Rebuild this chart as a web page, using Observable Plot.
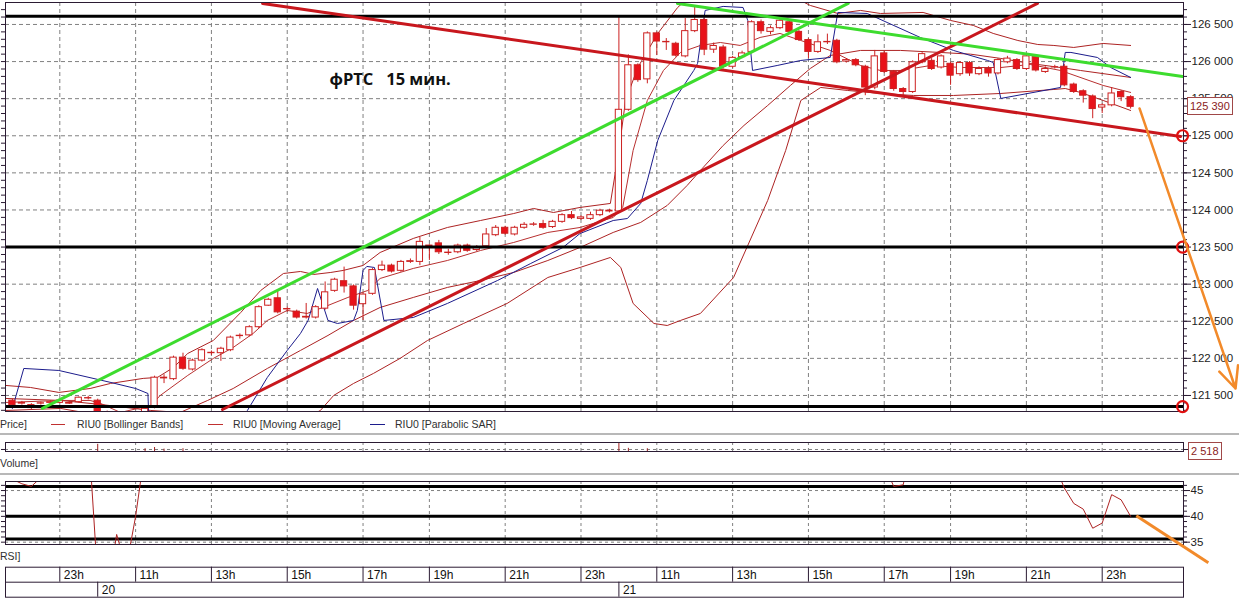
<!DOCTYPE html>
<html><head><meta charset="utf-8">
<script src="https://cdn.jsdelivr.net/npm/d3@7"></script>
<script src="https://cdn.jsdelivr.net/npm/@observablehq/plot@0.6"></script>
<style>
html,body{margin:0;padding:0;background:#fff;}
#wrap{position:relative;width:1239px;height:598px;overflow:hidden;font-family:"Liberation Sans",Arial,sans-serif;background:#fff;}
#wrap svg{position:absolute;left:0;overflow:visible;}
#wrap svg text{white-space:pre;}
.lbl{position:absolute;font-size:10.5px;color:#303030;white-space:pre;line-height:12px;}
.dash{position:absolute;height:1px;}
.sep{position:absolute;left:0;width:1239px;height:2px;background:#b8b8b8;}
.box{position:absolute;border:1px solid #a04848;color:#8a1c1c;font-size:11px;background:#fff;line-height:12px;padding:2px 2px;white-space:pre;}
</style></head><body><div id="wrap"></div><script>
// ---------- DATA ----------
const firstIdx = -5; // candle index of first bar (index 0 = 23:00 on day 19)
// [open, high, low, close] per 15-min candle
const ohlc = [
[121430,121450,121350,121370],[121390,121420,121370,121400],[121370,121390,121310,121330],[121390,121410,121370,121395],
[121400,121430,121380,121410],[121400,121450,121390,121430],[121400,121420,121380,121390],[121410,121480,121400,121470],
[121460,121490,121440,121465],[121430,121450,121200,121270],[121270,121290,121080,121150],[121150,121230,121100,121200],
[121200,121240,121140,121180],[121180,121280,121150,121260],[121250,121340,121230,121320],[121340,121760,121320,121740],
[121730,121780,121660,121740],[121720,122030,121700,122010],[122010,122070,121840,121860],[121850,121990,121830,121970],
[121970,122130,121950,122110],[122070,122100,122040,122075],[122070,122150,121960,122130],[122110,122300,122090,122280],
[122300,122330,122260,122305],[122310,122440,122290,122420],[122420,122710,122400,122690],[122710,122810,122700,122790],
[122810,122920,122600,122620],[122660,122690,122620,122665],[122630,122650,122530,122550],[122550,122740,122530,122560],
[122550,122710,122530,122690],[122670,123030,122650,122890],[122910,123080,122890,123060],[123040,123230,122880,122970],
[122970,122990,122650,122710],[122730,122880,122510,122860],[122870,123210,122850,123190],[123190,123310,123170,123250],
[123250,123270,123150,123170],[123180,123320,123160,123300],[123300,123340,123280,123310],[123300,123630,123250,123570],
[123520,123530,123320,123500],[123550,123590,123400,123430],[123420,123470,123390,123425],[123430,123540,123410,123520],
[123520,123540,123430,123450],[123460,123520,123440,123500],[123510,123750,123490,123670],[123660,123790,123640,123760],
[123760,123780,123660,123680],[123670,123780,123650,123760],[123760,123830,123740,123800],[123800,123830,123780,123805],
[123810,123860,123740,123760],[123770,123860,123750,123840],[123840,123950,123820,123930],[123930,123980,123870,123890],
[123880,123920,123860,123900],[123880,123970,123860,123930],[123930,124010,123910,123990],[123980,124010,123960,123990],
[123980,126600,123960,125350],[125350,126090,125330,125950],[125950,125970,125720,125750],[125760,126400,125700,126380],
[126380,126400,126080,126270],[126260,126310,126150,126265],[126240,126260,126060,126080],[126070,126580,126050,126410],
[126410,126730,126390,126560],[126560,126580,126080,126160],[126160,126250,126110,126210],[126190,126220,125900,125930],
[125930,126070,125910,126050],[126060,126140,126040,126110],[126130,126550,126110,126530],[126530,126560,126370,126410],
[126400,126480,126360,126450],[126450,126580,126430,126550],[126530,126550,126380,126400],[126400,126420,126270,126290],
[126290,126310,126040,126130],[126130,126360,126110,126260],[126260,126370,126230,126265],[126280,126300,125970,125990],
[126000,126040,125980,126020],[126020,126040,125930,125950],[125930,125950,125540,125650],[125650,126150,125620,126070],
[126110,126140,125840,125860],[125860,125880,125600,125630],[125630,125650,125540,125590],[125590,126010,125570,125990],
[125990,126120,125970,126100],[126010,126040,125880,125900],[125920,126090,125900,126070],[125970,125990,125680,125810],
[125830,126000,125800,125980],[125980,126000,125800,125840],[125830,125930,125810,125900],[125900,125930,125790,125840],
[125840,126040,125820,126020],[125990,126070,125970,126040],[126020,126040,125880,125900],[125900,126090,125880,126070],
[126060,126080,125860,125880],[125860,125930,125840,125900],[125920,125950,125900,125925],[125930,125960,125660,125680],
[125690,125710,125570,125590],[125600,125620,125440,125540],[125530,125550,125230,125360],[125380,125430,125300,125410],
[125410,125650,125390,125570],[125590,125610,125460,125520],[125520,125540,125360,125390]
];
// Bollinger upper / middle / lower, moving average, parabolic SAR: [candle index, price]
const bbUpper = [[-5.7,121635],[-3.1,121608],[-0.1,121541],[3.2,121594],[5.35,121662],[8.8,121730],[10.3,121743],[12.0,121877],[13.5,122066],[16.2,122241],[19.1,122619],[21.2,122915],[23.6,123144],[25.4,123171],[26.8,123131],[28.6,123158],[29.9,123185],[32.0,123252],[33.8,123427],[37.3,123616],[40.9,123764],[44.4,123858],[47.9,123952],[50.0,124020],[52.1,123966],[54.9,124034],[58.1,124088],[59.0,124802],[59.7,125476],[61.0,125921],[63.1,126379],[65.2,126729],[66.6,126891],[69.7,127093],[73.9,127025],[77.1,126891],[79.2,126756],[82.1,126648],[84.5,126689],[86.6,126648],[91.1,126662],[94.0,126554],[96.4,126487],[98.5,126379],[101.1,126284],[103.2,126230],[104.9,126217],[107.0,126190],[110.1,126244],[113.0,126217]];
const bbMiddle = [[-5.7,121460],[0.1,121433],[4.3,121379],[9.6,121298],[12.7,121271],[15.6,121433],[18.3,121594],[21.9,121864],[25.4,122107],[28.3,122309],[31.0,122511],[33.8,122686],[37.3,122821],[40.9,122956],[44.4,123050],[47.9,123158],[51.5,123319],[54.9,123495],[58.4,123697],[61.3,123832],[64.1,124061],[66.2,124330],[67.6,124532],[70.0,124869],[72.2,125139],[74.7,125408],[77.1,125678],[79.2,125907],[81.3,126082],[84.5,126150],[88.7,126150],[92.9,126123],[96.1,126100],[99.3,126042],[102.4,125974],[105.6,125920],[107.7,125880],[113.0,125786]];
const bbLower = [[-5.7,121298],[0.1,121325],[4.3,121231],[9.6,121028],[14.9,120894],[20.1,121028],[25.4,121163],[27.5,121298],[28.9,121500],[31.0,121662],[33.1,121797],[35.9,121999],[38.8,122241],[42.6,122470],[47.2,122740],[51.5,123090],[54.9,123225],[58.1,123360],[59.2,123225],[60.5,122740],[62.7,122470],[64.1,122443],[65.5,122511],[67.6,122605],[71.1,123090],[74.7,124128],[76.6,124802],[78.2,125476],[80.3,125651],[83.1,125611],[86.6,125570],[90.1,125543],[94.3,125543],[99.3,125570],[104.9,125624],[106.1,125637],[107.7,125584],[110.1,125476],[113.0,125341]];
const movingAvg = [[-5.7,121406],[0.1,121433],[3.2,121433],[4.3,121393],[6.4,121271],[9.6,121366],[10.6,121500],[13.5,121770],[16.2,121999],[18.3,122147],[20.4,122336],[21.9,122511],[24.0,122646],[26.1,122605],[28.3,122713],[30.4,122821],[32.5,122915],[33.8,123077],[37.3,123212],[40.9,123319],[44.4,123454],[47.9,123562],[51.5,123697],[54.9,123764],[58.4,123899],[59.4,124034],[60.5,124802],[62.0,125476],[63.7,125880],[65.5,126123],[67.6,126217],[69.7,126257],[71.8,126217],[73.9,126325],[76.0,126379],[78.2,126284],[81.3,126150],[84.5,125947],[86.6,125880],[88.7,125880],[91.9,125947],[95.1,125920],[99.3,125920],[102.4,125961],[105.6,125880],[110.1,125678],[113.0,125584]];
const parabolicSar = [[-5.0,121325],[-3.8,121864],[-0.1,121837],[5.4,121675],[8.0,121594],[9.3,121527],[9.4,121163],[12.7,120826],[18.0,121028],[19.8,121298],[21.9,121743],[24.0,122107],[25.4,122336],[26.2,122511],[27.2,122942],[28.3,122511],[29.3,122470],[31.0,122511],[31.4,122646],[32.0,123185],[32.4,123239],[33.2,123225],[34.2,122511],[37.3,122551],[40.9,122740],[46.2,123050],[49.7,123279],[53.1,123495],[54.9,123683],[58.4,123858],[59.9,123885],[61.3,124088],[62.0,124398],[63.1,124937],[64.8,125476],[66.9,125880],[67.3,125974],[68.1,126689],[70.0,126743],[72.1,126729],[72.6,126554],[73.1,125880],[75.7,125947],[78.2,126015],[81.3,126055],[82.1,126662],[85.2,126648],[87.3,126527],[90.8,126325],[94.3,126150],[97.9,126015],[98.5,125988],[99.3,125503],[105.6,125651],[106.1,126123],[106.7,126123],[109.5,126055],[110.9,125920],[113.0,125786]];
// hand-drawn trend lines: [[index, price], [index, price]]
const trendRed = [[[21.4,126783],[118.27,124991]], [[17.17,121311],[103.17,126783]]];
const trendGreen = [[[-1.83,121325],[83.2,126783]], [[65.18,126783],[118.48,125799]]];
const levels = [126610, 123500, 121350];
const circleLevels = [125000, 123500, 121350];
const arrowPrice = [[113.94,125368,124.07,121594]];
const lastClose = 125390;
// volume (visible ticks only) [index, volume]
const volumes = [[4,9000],[9,3500],[10,5000],[11,3000],[13,3500],[59,14000],[60,4000],[62,3500]];
const volLast = 2518;
// RSI visible segments [index, value]
const rsiSegments = [
 [[-5,47.2],[-4,46.3],[-3,45.8],[-2,47.5],[-1,50]],
 [[3,56.7],[4,27.9],[5,25],[6,36.5],[7,30],[8,40],[9,53]],
 [[87,50],[88,45.8],[89,46.1],[90,55]],
 [[105,50],[106,45.5],[107,42.5],[108,41.4],[109,37.7],[110,38.7],[111,44.2],[112,43.2],[113,40]]
];
const rsiLevels = [45.8, 40, 35.6];
const rsiTicks = [35, 40, 45];
const rsiArrow = [[113.6,40.1,121.2,31.0]];
// time axis
const tickIdx = [0,8,16,24,32,39,47,55,63,71,79,87,94,102,110];
const tickLabels = ["23h","11h","13h","15h","17h","19h","21h","23h","11h","13h","15h","17h","19h","21h","23h"];
const dayIdx = [4, 59];
const dayLabels = ["20","21"];
const priceTicks = [121500,122000,122500,123000,123500,124000,124500,125000,125500,126000,126500];
const title = "фРТС   15 мин.";

// ---------- LAYOUT ----------
const W = 1239, mL = 5, mR = 56;
const xDomain = [-5.73, 118.58];
const frameColor = "#2b1b33";
const gridColor = "#808080";
const lineRed = "#ad2323";
const fmt = d3.formatLocale({thousands:" ", grouping:[3], decimal:".", currency:["",""]}).format(",d");
const minorPrice = d3.range(121300, 126800, 100);
const candles = ohlc.map((d,i)=>({k:firstIdx+i,o:d[0],h:d[1],l:d[2],c:d[3]}));
const pts = a => a.map(([k,v])=>({k,v}));
const segs = list => list.flatMap((s,i)=>s.map(([k,v])=>({k,v,s:i})));
const wrap = document.getElementById("wrap");
function place(el, top){ el.style.position="absolute"; el.style.top=top+"px"; el.style.left="0px"; wrap.appendChild(el); return el; }

const price = Plot.plot({
  width: W, height: 415, marginLeft: mL, marginRight: mR, marginTop: 2, marginBottom: 4,
  style: {fontSize: "11px", fontFamily: "Liberation Sans, Arial, sans-serif", background: "transparent", overflow: "visible"},
  x: {domain: xDomain, axis: null},
  y: {domain: [121284, 126796], axis: null},
  marks: [
    Plot.ruleY(priceTicks, {stroke: gridColor, strokeDasharray: "4,3"}),
    Plot.ruleX(tickIdx, {stroke: gridColor, strokeDasharray: "4,3"}),
    Plot.line(pts(bbUpper), {x:"k", y:"v", stroke: lineRed, strokeWidth: 1, clip: true}),
    Plot.line(pts(bbMiddle), {x:"k", y:"v", stroke: lineRed, strokeWidth: 1, clip: true}),
    Plot.line(pts(bbLower), {x:"k", y:"v", stroke: lineRed, strokeWidth: 1, clip: true}),
    Plot.line(pts(movingAvg), {x:"k", y:"v", stroke: "#b83030", strokeWidth: 1, clip: true}),
    Plot.line(pts(parabolicSar), {x:"k", y:"v", stroke: "#1c1c8c", strokeWidth: 1, clip: true}),
    Plot.ruleX(candles, {x:"k", y1:"l", y2:"h", stroke:"#cc2020", strokeWidth:1, clip: true}),
    Plot.rect(candles, {x1: d=>d.k-0.33, x2: d=>d.k+0.33, y1:"o", y2:"c", fill: d=> d.c < d.o ? "#e8121a" : "#ffffff", stroke:"#cc2020", strokeWidth:1, clip: true}),
    Plot.ruleY(levels, {stroke:"#000", strokeWidth: 3}),
    Plot.line(segs(trendRed), {x:"k", y:"v", z:"s", stroke:"#c8171d", strokeWidth: 3, clip: true}),
    Plot.line(segs(trendGreen), {x:"k", y:"v", z:"s", stroke:"#3ddc2e", strokeWidth: 3, clip: true}),
    Plot.frame({stroke: frameColor}),
    Plot.axisY({anchor:"left", ticks: minorPrice, tickSize: 4, tickFormat: () => "", label: null, stroke: frameColor}),
    Plot.axisY({anchor:"right", ticks: minorPrice, tickSize: 3, tickFormat: () => "", label: null, stroke: frameColor}),
    Plot.axisY({anchor:"right", ticks: priceTicks, tickSize: 7, tickPadding: 1, tickFormat: fmt, label: null, stroke: frameColor, fill: "#222", fontSize: 11.5}),
    Plot.dot(circleLevels, {x: () => xDomain[1] - 0.1, y: d => d, r: 5.5, stroke: "#e01010", strokeWidth: 2.2, fill: "none"}),
    Plot.arrow(arrowPrice, {x1: d=>d[0], y1: d=>d[1], x2: d=>d[2], y2: d=>d[3], stroke:"#f28a2a", strokeWidth: 2.5, headLength: 14, headAngle: 50}),
    Plot.text([title], {text: d=>d, frameAnchor: "top-left", dx: 324, dy: 77, textAnchor: "start", lineAnchor: "middle", fontSize: 16.5, fontWeight: "bold", fontFamily: "Open Sans, Noto Sans, sans-serif", fill: "#111"})
  ]
});
place(price, 0);

const vol = Plot.plot({
  width: W, height: 16, marginLeft: mL, marginRight: mR, marginTop: 4, marginBottom: 3,
  style: {fontSize: "11px", background: "transparent", overflow: "visible"},
  x: {domain: xDomain, axis: null},
  y: {domain: [0, 11300], axis: null},
  marks: [
    Plot.ruleX(tickIdx, {stroke: gridColor, strokeDasharray: "3,3"}),
    Plot.ruleY([volLast], {stroke: gridColor, strokeDasharray: "3,3"}),
    Plot.ruleX(volumes, {x: d=>d[0], y1: 0, y2: d=>d[1], stroke: "#a02020", clip: true}),
    Plot.frame({stroke: frameColor}),
    Plot.axisY({anchor:"left", ticks: [volLast], tickSize: 4, tickFormat: () => "", label: null, stroke: frameColor}),
    Plot.axisY({anchor:"right", ticks: [volLast], tickSize: 5, tickFormat: () => "", label: null, stroke: frameColor})
  ]
});
place(vol, 438);

const rsi = Plot.plot({
  width: W, height: 92, marginLeft: mL, marginRight: mR, marginTop: 5, marginBottom: 24,
  style: {fontSize: "11.5px", fontFamily: "Liberation Sans, Arial, sans-serif", background: "transparent", overflow: "visible"},
  x: {domain: xDomain, axis: null},
  y: {domain: [34.55, 46.75], axis: null},
  marks: [
    Plot.ruleX(tickIdx, {stroke: gridColor, strokeDasharray: "3,3"}),
    Plot.ruleY(rsiTicks, {stroke: gridColor, strokeDasharray: "3,3"}),
    Plot.ruleY(rsiLevels, {stroke: "#000", strokeWidth: 3}),
    Plot.line(segs(rsiSegments), {x:"k", y:"v", z:"s", stroke: lineRed, strokeWidth: 1, clip: true}),
    Plot.frame({stroke: frameColor}),
    Plot.axisY({anchor:"left", ticks: d3.range(35, 47, 1), tickSize: 4, tickFormat: () => "", label: null, stroke: frameColor}),
    Plot.axisY({anchor:"right", ticks: d3.range(35, 47, 1), tickSize: 3, tickFormat: () => "", label: null, stroke: frameColor}),
    Plot.axisY({anchor:"right", ticks: rsiTicks, tickSize: 6, tickPadding: 1, label: null, stroke: frameColor, fill: "#222"}),
    Plot.link(rsiArrow, {x1: d=>d[0], y1: d=>d[1], x2: d=>d[2], y2: d=>d[3], stroke:"#f28a2a", strokeWidth: 3})
  ]
});
place(rsi, 476);

const axis = Plot.plot({
  width: W, height: 36, marginLeft: mL, marginRight: mR, marginTop: 4.7, marginBottom: 1.3,
  style: {fontSize: "12px", fontFamily: "Liberation Sans, Arial, sans-serif", background: "transparent", overflow: "visible"},
  x: {domain: xDomain, axis: null},
  y: {domain: [0, 2], axis: null},
  marks: [
    Plot.ruleY([1], {stroke: frameColor}),
    Plot.ruleX(tickIdx, {y1: 1, y2: 2, stroke: frameColor}),
    Plot.ruleX(dayIdx, {y1: 0, y2: 1, stroke: frameColor}),
    Plot.frame({stroke: frameColor}),
    Plot.text(tickIdx, {x: d=>d, y: 1.5, text: (d,i)=>tickLabels[i], dx: 4, textAnchor: "start", fill: "#111"}),
    Plot.text(dayIdx, {x: d=>d, y: 0.5, text: (d,i)=>dayLabels[i], dx: 4, textAnchor: "start", fill: "#111"})
  ]
});
place(axis, 562);

// ---------- HTML labels ----------
function div(cls, styleStr, text){ const d=document.createElement("div"); d.className=cls; d.setAttribute("style", styleStr); if(text!=null) d.textContent=text; wrap.appendChild(d); return d; }
div("lbl","left:0px;top:418px","Price]");
div("dash","left:51px;top:424px;width:14px;background:#c03030");
div("lbl","left:77px;top:418px","RIU0 [Bollinger Bands]");
div("dash","left:208px;top:424px;width:15px;background:#c03030");
div("lbl","left:233px;top:418px","RIU0 [Moving Average]");
div("dash","left:370px;top:424px;width:15px;background:#1c1c8c");
div("lbl","left:395px;top:418px","RIU0 [Parabolic SAR]");
div("sep","top:433px");
div("lbl","left:0px;top:457px","Volume]");
div("sep","top:473px");
div("lbl","left:0px;top:550px","RSI]");
const yLast = price.scale("y").apply(lastClose);
div("box", `left:1187px;top:${yLast-9}px`, fmt(lastClose));
const yVol = 438 + vol.scale("y").apply(volLast);
div("box", `left:1188px;top:${yVol-7}px`, fmt(volLast));
</script></body></html>
